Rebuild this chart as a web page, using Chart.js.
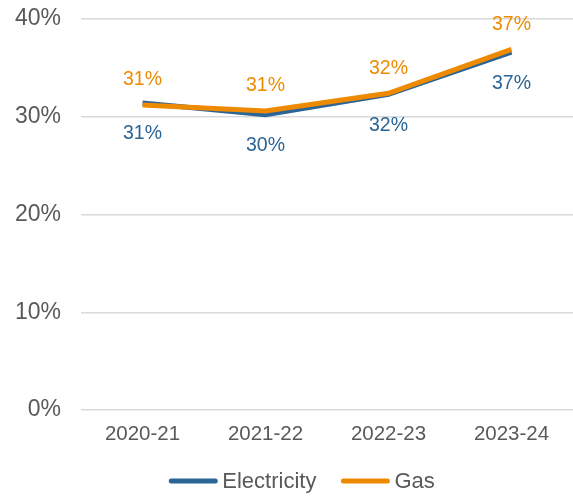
<!DOCTYPE html>
<html>
<head>
<meta charset="utf-8">
<script src="https://cdn.jsdelivr.net/npm/chart.js@4.4.1/dist/chart.umd.min.js"></script>
<style>
  html, body { margin: 0; padding: 0; background: #fff; }
  #wrap { width: 573px; height: 498px; position: relative; }
</style>
</head>
<body>
<div id="wrap"><canvas id="chart"></canvas></div>
<script>
  // values (percent)
  const years = ['2020-21', '2021-22', '2022-23', '2023-24'];
  const electricity = [31.4, 30.2, 32.3, 36.6];
  const gas = [31.2, 30.6, 32.4, 36.9];
  const yTicks = [0, 10, 20, 30, 40];

  const BLUE = '#2B6496';
  const ORANGE = '#EE8A00';
  const INK = '#595959';
  const GRID = '#D9D9D9';
  const FONT = "'Liberation Sans', Arial, sans-serif";

  // simple inline data labels: gas above the point, electricity below
  const pointLabels = {
    id: 'pointLabels',
    afterDatasetsDraw(chart) {
      const ctx = chart.ctx;
      ctx.save();
      ctx.font = '19.5px ' + FONT;
      ctx.textAlign = 'center';
      ctx.textBaseline = 'middle';
      chart.data.datasets.forEach((ds, i) => {
        const meta = chart.getDatasetMeta(i);
        meta.data.forEach((pt, j) => {
          ctx.fillStyle = ds.borderColor;
          ctx.fillText(Math.round(ds.data[j]) + '%', pt.x, pt.y + ds.labelOffset);
        });
      });
      ctx.restore();
    },
  };

  // line-style legend drawn under the axis, like the office chart
  const lineLegend = {
    id: 'lineLegend',
    afterDraw(chart) {
      const ctx = chart.ctx;
      const sets = chart.data.datasets;
      const box = 48, gapText = 5, gapItem = 25, y = 481;
      ctx.save();
      ctx.font = '22px ' + FONT;
      const widths = sets.map((ds) => box + gapText + ctx.measureText(ds.label).width);
      const total = widths.reduce((a, b) => a + b, 0) + gapItem * (sets.length - 1);
      let x = 302 - total / 2;
      sets.forEach((ds, i) => {
        ctx.strokeStyle = ds.borderColor;
        ctx.lineWidth = 5;
        ctx.lineCap = 'round';
        ctx.beginPath();
        ctx.moveTo(x + 2, y);
        ctx.lineTo(x + box - 2, y);
        ctx.stroke();
        ctx.fillStyle = INK;
        ctx.textBaseline = 'middle';
        ctx.fillText(ds.label, x + box + gapText, y + 1);
        x += widths[i] + gapItem;
      });
      ctx.restore();
    },
  };

  Chart.defaults.font.family = FONT;
  Chart.defaults.color = INK;

  new Chart(document.getElementById('chart'), {
    type: 'line',
    data: {
      labels: years,
      datasets: [
        {
          label: 'Electricity',
          data: electricity,
          borderColor: BLUE,
          backgroundColor: BLUE,
          borderWidth: 5,
          pointRadius: 0,
          tension: 0,
          order: 1,
          labelOffset: 31,
        },
        {
          label: 'Gas',
          data: gas,
          borderColor: ORANGE,
          backgroundColor: ORANGE,
          borderWidth: 5,
          pointRadius: 0,
          tension: 0,
          order: 0,
          labelOffset: -25,
        },
      ],
    },
    options: {
      responsive: true,
      maintainAspectRatio: false,
      animation: false,
      layout: { padding: { top: 19, right: 0, left: 0, bottom: 34 } },
      plugins: {
        tooltip: { enabled: false },
        legend: { display: false },
      },
      scales: {
        x: {
          offset: true,
          afterFit: (s) => { s.height = 54; s.paddingLeft = 0; s.paddingRight = 0; },
          grid: { display: false, drawTicks: false },
          border: { display: false },
          ticks: { color: INK, font: { size: 20.5 }, padding: 12 },
        },
        y: {
          min: 0,
          max: 40,
          afterFit: (s) => { s.width = 81; s.paddingTop = 0; s.paddingBottom = 0; },
          afterBuildTicks: (s) => { s.ticks = yTicks.map((v) => ({ value: v })); },
          grid: { color: GRID, lineWidth: 1.5, drawTicks: false },
          border: { display: false },
          ticks: { color: INK, font: { size: 23 }, padding: 20, callback: (v) => v + '%' },
        },
      },
    },
    plugins: [pointLabels, lineLegend],
  });
</script>
</body>
</html>
